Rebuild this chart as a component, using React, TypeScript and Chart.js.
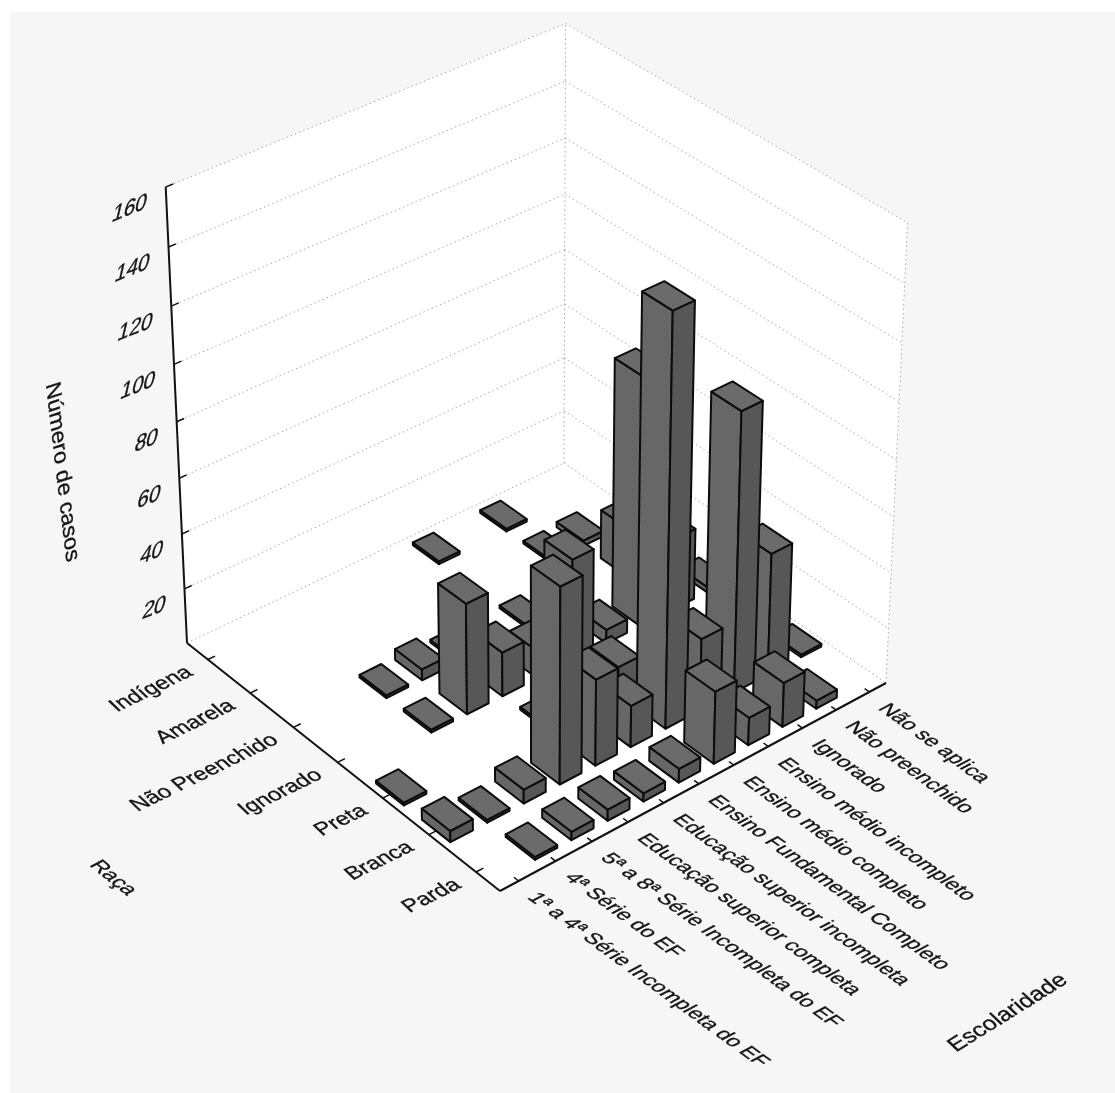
import React, { useEffect, useRef } from "react";
import { Chart, registerables, ScatterController } from "chart.js";

const escolaridade = [
  "1ª a 4ª Série Incompleta do EF",
  "4ª Série do EF",
  "5ª a 8ª Série Incompleta do EF",
  "Educação superior completa",
  "Educação superior incompleta",
  "Ensino Fundamental Completo",
  "Ensino médio completo",
  "Ensino médio incompleto",
  "Ignorado",
  "Não preenchido",
  "Não se aplica",
];
const racas = ["Parda", "Branca", "Preta", "Ignorado", "Não Preenchido", "Amarela", "Indígena"];
const zTicks = [20, 40, 60, 80, 100, 120, 140, 160];

const parda = [0, 1, 3, 4, 3, 5, 26, 10, 16, 3, 0];
const branca = [4, 1, 5, 70, 31, 15, 145, 26, 100, 44, 1];
const preta = [1, 0, 0, 0, 1, 0, 10, 0, 0, 0, 0];
const ignorado = [0, 0, 1, 40, 16, 10, 37, 5, 90, 26, 2];
const naoPreenchido = [0, 0, 1, 4, 1, 0, 1, 0, 0, 18, 0];
const amarela = [0, 0, 0, 0, 0, 0, 0, 0, 1, 2, 0];
const indigena = [0, 0, 0, 0, 0, 0, 1, 0, 1, 0, 0];
const rows = [parda, branca, preta, ignorado, naoPreenchido, amarela, indigena];

type P = [number, number];
const FRONT: P = [500, 891];
const RIGHT: P = [886, 683];
const BACK: P = [564, 463];
const LEFT: P = [187, 643];
const VP: P = [537, 8140];
const LEFT_TOP_Y = 187;
const HALF = 0.305;

// floor homography: unit square -> picture quad
function floorMatrix() {
  const [x0, y0] = FRONT, [x1, y1] = RIGHT, [x2, y2] = BACK, [x3, y3] = LEFT;
  const dx1 = x1 - x2, dx2 = x3 - x2, sx = x0 - x1 + x2 - x3;
  const dy1 = y1 - y2, dy2 = y3 - y2, sy = y0 - y1 + y2 - y3;
  const den = dx1 * dy2 - dx2 * dy1;
  const g = (sx * dy2 - dx2 * sy) / den;
  const h = (dx1 * sy - sx * dy1) / den;
  return {
    a: x1 - x0 + g * x1, b: x3 - x0 + h * x3, c: x0,
    d: y1 - y0 + g * y1, e: y3 - y0 + h * y3, f: y0, g, h,
  };
}
const M = floorMatrix();
const K = (() => {
  const Y = M.e + M.f, W = M.h + 1;
  return (Y - LEFT_TOP_Y * W) / (LEFT_TOP_Y - VP[1]);
})();
function proj(u: number, v: number, z: number): P {
  const X = M.a * u + M.b * v + M.c + K * z * VP[0];
  const Y = M.d * u + M.e * v + M.f + K * z * VP[1];
  const W = M.g * u + M.h * v + 1 + K * z;
  return [X / W, Y / W];
}

function fractions(chart: any) {
  const sx = chart.scales.xEsc, sy = chart.scales.yRaca, sz = chart.scales.zCasos;
  return {
    U: (val: number) => (sx.getPixelForValue(val) - sx.left) / sx.width,
    V: (val: number) => (sy.bottom - sy.getPixelForValue(val)) / sy.height,
    Z: (val: number) => (sz.bottom - sz.getPixelForValue(val)) / sz.height,
  };
}

function poly(ctx: CanvasRenderingContext2D, pts: P[], fill?: any) {
  ctx.beginPath();
  pts.forEach((p, i) => (i ? ctx.lineTo(p[0], p[1]) : ctx.moveTo(p[0], p[1])));
  ctx.closePath();
  if (fill) {
    ctx.fillStyle = fill;
    ctx.fill();
  }
}

function stipple(ctx: CanvasRenderingContext2D, base: string, dot: string) {
  const c = document.createElement("canvas");
  c.width = 4;
  c.height = 4;
  const g = c.getContext("2d")!;
  g.fillStyle = base;
  g.fillRect(0, 0, 4, 4);
  g.fillStyle = dot;
  g.fillRect(0, 0, 1, 1);
  g.fillRect(2, 2, 1, 1);
  return ctx.createPattern(c, "repeat");
}

class Bar3DController extends ScatterController {
  static id = "bar3d";
  draw() {
    const chart: any = this.chart;
    const ctx: CanvasRenderingContext2D = chart.ctx;
    const { U, V, Z } = fractions(chart);
    const data: any[] = (this.getDataset() as any).data;
    const topFill = stipple(ctx, "#6c6c6c", "#626262");
    const leftFill = stipple(ctx, "#686868", "#5e5e5e");
    const rightFill = stipple(ctx, "#585858", "#505050");
    ctx.save();
    ctx.lineWidth = 2;
    ctx.lineJoin = "round";
    ctx.strokeStyle = "#0c0c0c";
    for (let n = data.length - 1; n >= 0; n--) {
      const d = data[n];
      if (!d.z) continue;
      const u0 = U(d.x - HALF), u1 = U(d.x + HALF);
      const v0 = V(d.y - HALF), v1 = V(d.y + HALF);
      const h = Z(d.z);
      const leftFace = [proj(u0, v1, 0), proj(u0, v0, 0), proj(u0, v0, h), proj(u0, v1, h)];
      const rightFace = [proj(u0, v0, 0), proj(u1, v0, 0), proj(u1, v0, h), proj(u0, v0, h)];
      const topFace = [proj(u0, v0, h), proj(u1, v0, h), proj(u1, v1, h), proj(u0, v1, h)];
      poly(ctx, leftFace, leftFill);
      ctx.stroke();
      poly(ctx, rightFace, rightFill);
      ctx.stroke();
      poly(ctx, topFace, topFill);
      ctx.stroke();
    }
    ctx.restore();
  }
}

function shearText(
  ctx: CanvasRenderingContext2D, text: string, x: number, y: number,
  base: P, up: P, em: number, align: CanvasTextAlign,
) {
  ctx.save();
  ctx.font = `${em}px "Liberation Sans", Arial, sans-serif`;
  ctx.textAlign = align;
  ctx.textBaseline = "middle";
  ctx.fillStyle = "#141414";
  ctx.strokeStyle = "#141414";
  ctx.lineWidth = 0.35;
  ctx.transform(base[0], base[1], -up[0], -up[1], x, y);
  ctx.fillText(text, 0, 0);
  ctx.strokeText(text, 0, 0);
  ctx.restore();
}

const framePlugin = {
  id: "frame3d",
  beforeDatasetsDraw(chart: any) {
    const ctx: CanvasRenderingContext2D = chart.ctx;
    const { U, V, Z } = fractions(chart);
    const W = chart.width, H = chart.height;
    ctx.save();
    ctx.fillStyle = "#ffffff";
    ctx.fillRect(0, 0, W, H);
    ctx.fillStyle = "#f6f6f6";
    ctx.fillRect(10, 12, W - 10, H - 12);
    poly(ctx, [proj(0, 1, 1), proj(1, 1, 1), proj(1, 0, 1), proj(1, 0, 0), proj(0, 0, 0), proj(0, 1, 0)], "#ffffff");

    const line = (a: P, b: P) => {
      ctx.beginPath();
      ctx.moveTo(a[0], a[1]);
      ctx.lineTo(b[0], b[1]);
      ctx.stroke();
    };
    // dotted walls
    ctx.strokeStyle = "#a8a8a8";
    ctx.lineWidth = 1;
    ctx.setLineDash([1.5, 3]);
    [0, ...zTicks].forEach((t) => {
      const z = Z(t);
      line(proj(0, 1, z), proj(1, 1, z));
      line(proj(1, 1, z), proj(1, 0, z));
    });
    line(proj(1, 1, 0), proj(1, 1, 1));
    line(proj(1, 0, 0), proj(1, 0, 1));
    ctx.setLineDash([]);

    // solid axes
    ctx.strokeStyle = "#111111";
    ctx.lineWidth = 2;
    line(proj(0, 1, 0), proj(0, 1, 1));
    line(proj(0, 1, 0), proj(0, 0, 0));
    line(proj(0, 0, 0), proj(1, 0, 0));
    ctx.lineWidth = 1.5;
    zTicks.forEach((t) => {
      const z = Z(t);
      line(proj(0, 1, z), proj(0.018, 1, z));
      const p = proj(0, 1, z);
      shearText(ctx, String(t), p[0] - 19, p[1] + 15, [0.93, -0.37], [0.25, -1.08], 22, "right");
    });
    escolaridade.forEach((name, i) => {
      const u = U(i);
      const p = proj(u, 0, 0);
      line(p, proj(u, 0.014, 0));
      shearText(ctx, name, p[0] + 13, p[1] + 14, [0.81, 0.59], [0.88, -0.47], 21, "left");
    });
    racas.forEach((name, j) => {
      const v = V(j);
      const p = proj(0, v, 0);
      line(p, proj(0.018, v, 0));
      shearText(ctx, name, p[0] - 18, p[1] + 11, [0.9, -0.44], [-0.7, -0.67], 22, "right");
    });
    shearText(ctx, "Número de casos", 62, 472, [0.115, 0.99], [0.9, -0.3], 23, "center");
    shearText(ctx, "Raça", 113, 878, [0.78, 0.63], [0.88, -0.47], 21, "center");
    shearText(ctx, "Escolaridade", 1008, 1013, [0.85, -0.53], [-0.7, -0.67], 23, "center");
    ctx.restore();
  },
};

Chart.register(...registerables, Bar3DController as any);

export default function App() {
  const ref = useRef<HTMLCanvasElement>(null);
  useEffect(() => {
    const chart = new Chart(ref.current!, {
      type: "bar3d" as any,
      data: {
        datasets: rows.map((row, j) => ({
          label: racas[j],
          xAxisID: "xEsc",
          yAxisID: "yRaca",
          data: row.map((z, i) => ({ x: i, y: j, z })),
          pointRadius: 0,
          showLine: false,
        })) as any,
      },
      options: {
        responsive: false,
        animation: false,
        events: [],
        layout: { padding: 0 },
        plugins: { legend: { display: false }, tooltip: { enabled: false }, title: { display: false } },
        scales: {
          xEsc: { type: "linear", axis: "x", min: -0.5, max: escolaridade.length - 0.5, display: false },
          yRaca: { type: "linear", axis: "y", min: -0.5, max: racas.length - 0.5, display: false },
          zCasos: { type: "linear", axis: "y", min: 0, max: 160, display: false },
        },
      } as any,
      plugins: [framePlugin as any],
    });
    return () => chart.destroy();
  }, []);
  return (
    <canvas
      ref={ref}
      width={1115}
      height={1093}
      style={{ position: "absolute", left: 0, top: 0, display: "block" }}
    />
  );
}
